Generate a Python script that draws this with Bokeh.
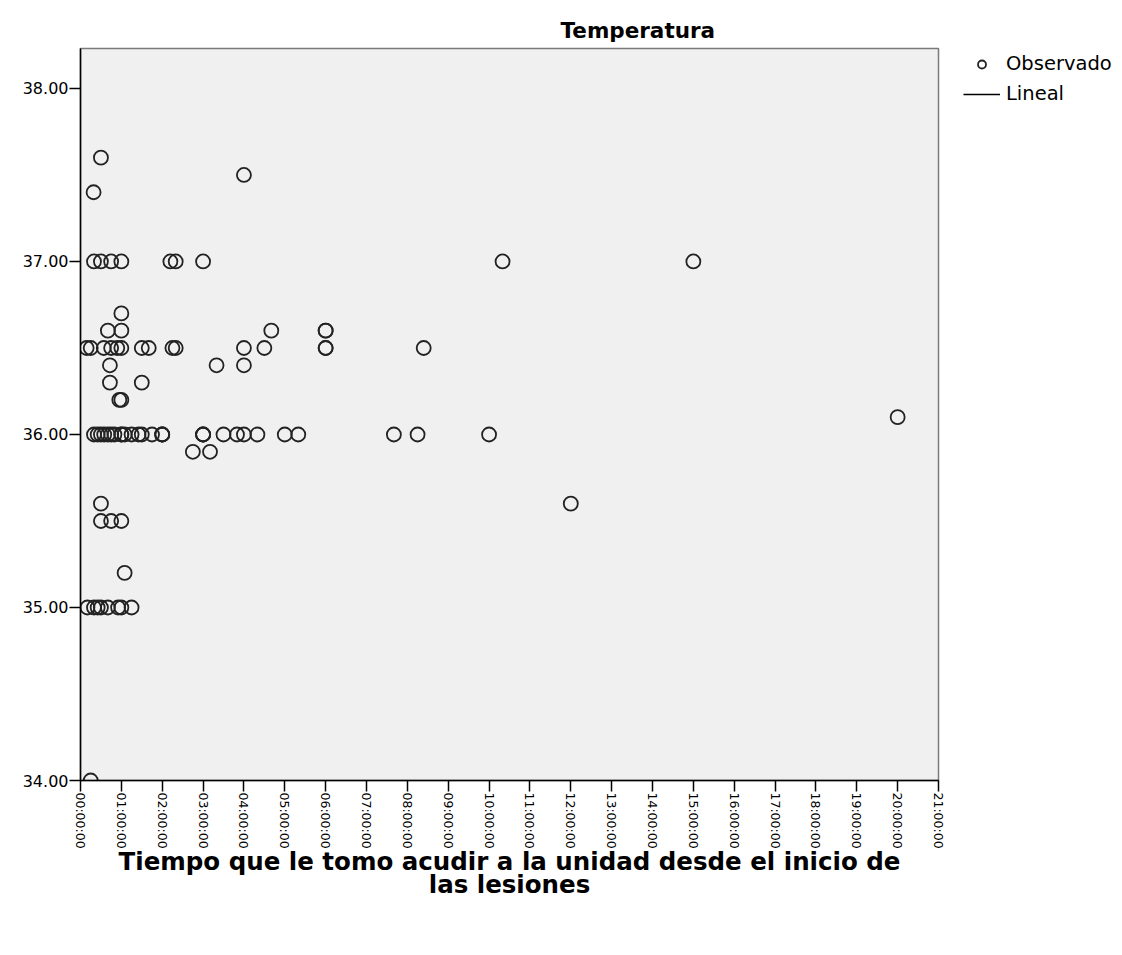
import math
from bokeh.plotting import figure
from bokeh.models import (Range1d, FixedTicker, Legend, LegendItem, Title,
                          ColumnDataSource)
from bokeh.embed import file_html
from bokeh.resources import INLINE

# ---------------- data (hours since lesion onset, temperature) ----------------
hours = [
    0.25,                                              # 34.0
    0.17, 0.33, 0.42, 0.5, 0.67, 0.92, 1.0, 1.25,      # 35.0
    1.08,                                              # 35.2
    0.5, 0.75, 1.0,                                    # 35.5
    0.5, 12.0,                                         # 35.6
    2.75, 3.17,                                        # 35.9
    0.33, 0.42, 0.5, 0.58, 0.67, 0.75, 0.83, 1.0, 1.0, 1.08, 1.25, 1.42,
    1.5, 1.75, 2.0, 2.0, 2.0, 3.0, 3.0, 3.0, 3.5, 3.83, 4.0, 4.33, 5.0,
    5.33, 7.67, 8.25, 10.0,                            # 36.0
    20.0,                                              # 36.1
    0.95, 1.0,                                         # 36.2
    0.72, 1.5,                                         # 36.3
    0.72, 3.33, 4.0,                                   # 36.4
    0.15, 0.25, 0.57, 0.75, 0.9, 1.0, 1.5, 1.67, 2.25, 2.33, 4.0, 4.5,
    6.0, 6.0, 8.4,                                     # 36.5
    0.67, 1.0, 4.67, 6.0, 6.0,                         # 36.6
    1.0,                                               # 36.7
    0.33, 0.5, 0.75, 1.0, 2.2, 2.33, 3.0, 10.33, 15.0, # 37.0
    0.32,                                              # 37.4
    4.0,                                               # 37.5
    0.5,                                               # 37.6
]
temps = (
    [34.0]
    + [35.0] * 8
    + [35.2]
    + [35.5] * 3
    + [35.6] * 2
    + [35.9] * 2
    + [36.0] * 29
    + [36.1]
    + [36.2] * 2
    + [36.3] * 2
    + [36.4] * 3
    + [36.5] * 15
    + [36.6] * 5
    + [36.7]
    + [37.0] * 9
    + [37.4]
    + [37.5]
    + [37.6]
)

x_ticks = list(range(22))
x_tick_labels = ["00:00:00", "01:00:00", "02:00:00", "03:00:00", "04:00:00",
                 "05:00:00", "06:00:00", "07:00:00", "08:00:00", "09:00:00",
                 "10:00:00", "11:00:00", "12:00:00", "13:00:00", "14:00:00",
                 "15:00:00", "16:00:00", "17:00:00", "18:00:00", "19:00:00",
                 "20:00:00", "21:00:00"]
y_ticks = [34, 35, 36, 37, 38]
y_tick_labels = ["34.00", "35.00", "36.00", "37.00", "38.00"]

title_text = "Temperatura"
x_title = "Tiempo que le tomo acudir a la unidad desde el inicio de\nlas lesiones"
legend_labels = ["Observado", "Lineal"]

FONT = "DejaVu Sans"

p = figure(frame_width=858, frame_height=732,
           min_border_left=80, min_border_top=48, min_border_right=176,
           min_border_bottom=20,
           x_range=Range1d(0, 21), y_range=Range1d(34, 38.231),
           output_backend="svg", toolbar_location=None)

p.background_fill_color = "#F0F0F0"
p.border_fill_color = "white"
p.outline_line_color = "#7a7a7a"
p.outline_line_width = 1.5
p.grid.visible = False

src = ColumnDataSource(dict(x=hours, y=temps))
pts = p.scatter("x", "y", source=src, marker="circle", size=14,
                fill_color=None, line_color="#222222", line_width=1.8)
# the "Lineal" fit line is listed in the legend but not visible in the plot
lin = p.line(x=[float("nan"), float("nan")], y=[float("nan"), float("nan")],
             line_color="black", line_width=1.5)

# axes
for ax in (p.xaxis[0], p.yaxis[0]):
    ax.axis_line_color = "black"
    ax.axis_line_width = 1.5
    ax.major_tick_line_color = "black"
    ax.major_tick_line_width = 1.5
    ax.major_tick_out = 11
    ax.major_tick_in = 0
    ax.minor_tick_line_color = None
    ax.major_label_text_font = FONT
    ax.major_label_text_color = "black"
    ax.major_label_standoff = 1

p.yaxis.major_label_text_font_size = "16px"
p.xaxis.major_label_text_font_size = "12.5px"

p.xaxis.ticker = FixedTicker(ticks=x_ticks)
p.xaxis.major_label_overrides = {t: l for t, l in zip(x_ticks, x_tick_labels)}
p.xaxis.major_label_orientation = -math.pi / 2
p.yaxis.ticker = FixedTicker(ticks=y_ticks)
p.yaxis.major_label_overrides = {t: l for t, l in zip(y_ticks, y_tick_labels)}

p.xaxis.axis_label = x_title
p.xaxis.axis_label_text_font = FONT
p.xaxis.axis_label_text_font_style = "bold"
p.xaxis.axis_label_text_font_size = "24.5px"
p.xaxis.axis_label_text_line_height = 0.8
p.xaxis.axis_label_text_color = "black"
p.xaxis.axis_label_standoff = -5

p.title = Title(text=title_text, align="left", offset=480,
                text_font=FONT, text_font_style="bold",
                text_font_size="21.5px", text_color="black", standoff=11)

legend = Legend(items=[LegendItem(label=legend_labels[0], renderers=[pts], index=0),
                       LegendItem(label=legend_labels[1], renderers=[lin])],
                location=(25, 675), orientation="vertical",
                glyph_width=37, glyph_height=20, label_standoff=6, spacing=7,
                padding=0, margin=0, border_line_color=None,
                background_fill_alpha=0,
                label_text_font=FONT, label_text_font_size="19.5px",
                label_text_color="black")
p.add_layout(legend, "right")

open("out.html", "w").write(file_html(p, INLINE))
